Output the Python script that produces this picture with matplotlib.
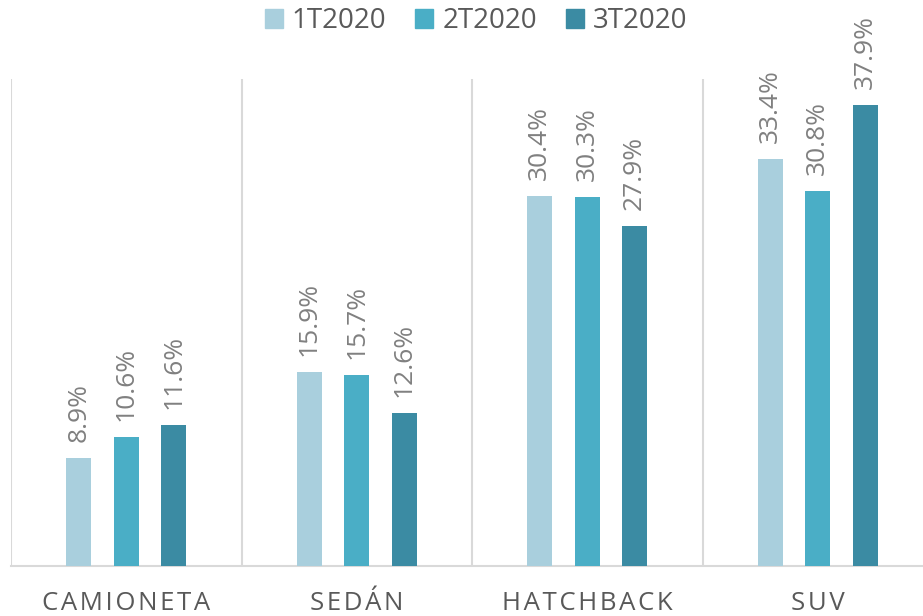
import matplotlib
matplotlib.use("Agg")
import matplotlib.pyplot as plt
import numpy as np
from matplotlib.patches import Patch

categories = ["CAMIONETA", "SEDÁN", "HATCHBACK", "SUV"]
series_names = ["1T2020", "2T2020", "3T2020"]
t1 = [8.9, 15.9, 30.4, 33.4]
t2 = [10.6, 15.7, 30.3, 30.8]
t3 = [11.6, 12.6, 27.9, 37.9]
colors = ["#a9cfdd", "#4aaec6", "#3b8ba3"]

plt.rcParams['font.family'] = ['Open Sans', 'DejaVu Sans']

W, H = 923, 616
fig = plt.figure(figsize=(W / 100, H / 100), dpi=100)
ax = fig.add_axes([11 / W, 1 - 566 / H, 922 / W, 487 / H])

x = np.arange(len(categories))
offs = [-0.206, 0.0, 0.206]
bw = 0.108
for vals, off, c in zip([t1, t2, t3], offs, colors):
    bars = ax.bar(x + off, vals, width=bw, color=c, zorder=3)
    for b, v in zip(bars, vals):
        ax.annotate(f"{v:.1f}%", (b.get_x() + b.get_width() / 2, v),
                    xytext=(0, 16), textcoords="offset pixels",
                    rotation=90, ha="center", va="bottom", fontsize=19,
                    color="#808080")

ax.set_xlim(-0.5, len(categories) - 0.5)
ax.set_ylim(0, 40)
for s in ["top", "right", "left"]:
    ax.spines[s].set_visible(False)
ax.spines["bottom"].set_color("#d9d9d9")
ax.spines["bottom"].set_linewidth(1.5)
ax.set_yticks([])
for bnd in np.arange(-0.5, len(categories) + 0.5, 1.0):
    ax.axvline(bnd, color="#d9d9d9", lw=1.5, zorder=1)

ax.set_xticks(x)
ax.set_xticklabels(["\u200a".join(list(c)) for c in categories],
                   fontsize=18.5, color="#595959")
ax.tick_params(axis="x", length=0, pad=18)

handles = [Patch(color=c, label=n) for c, n in zip(colors, series_names)]
fig.legend(handles=handles, loc="center", bbox_to_anchor=(476 / W, 1 - 21 / H),
           ncol=3, frameon=False, fontsize=20, labelcolor="#595959",
           handlelength=0.65, handleheight=0.65, handletextpad=0.32, columnspacing=1.05,
           borderpad=0)

fig.savefig("out.png", dpi=100)
